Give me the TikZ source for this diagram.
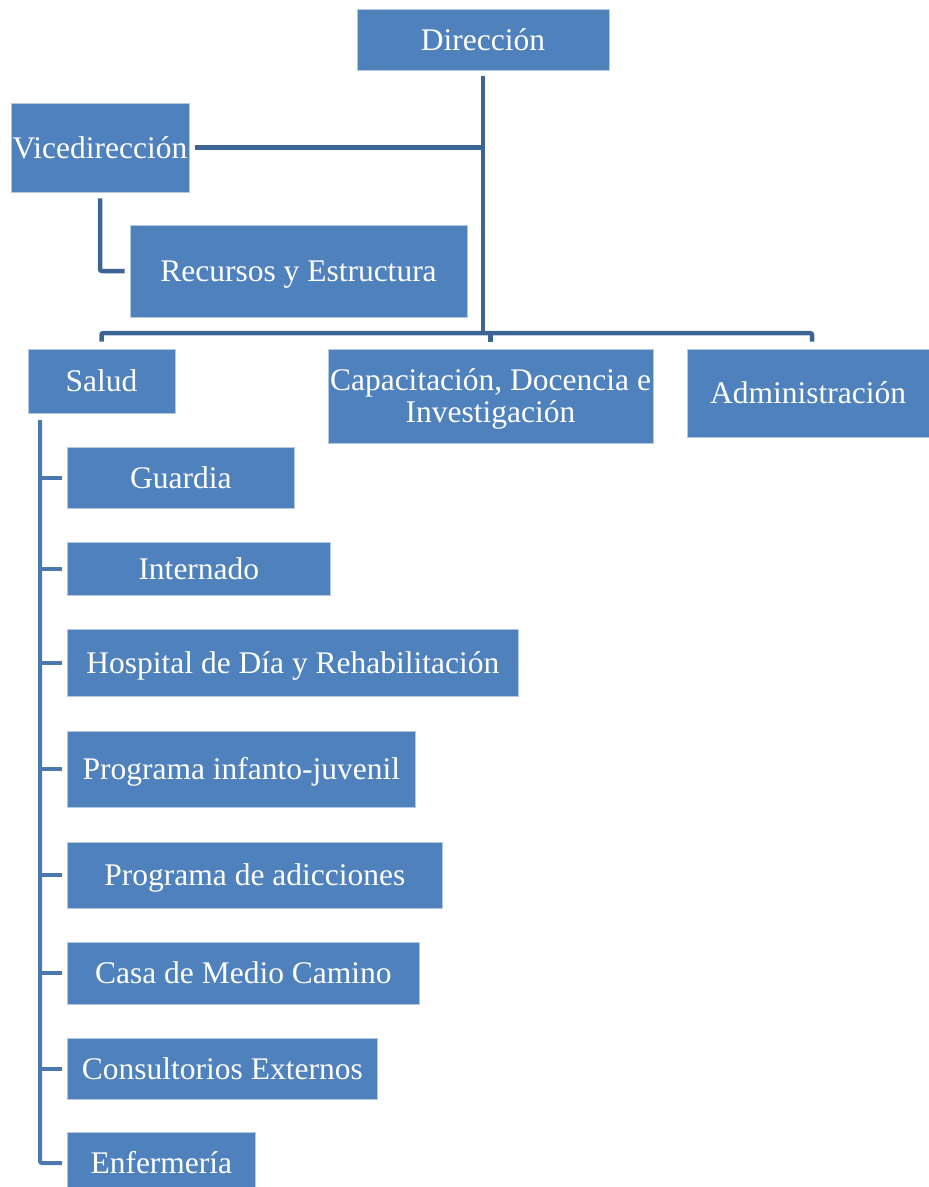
\documentclass[tikz,border=0pt]{standalone}
\usepackage{fontspec}
\setmainfont{Liberation Serif}
\definecolor{boxfill}{HTML}{4F81BD}
\definecolor{boxedge}{HTML}{B4C8E2}
\definecolor{linedark}{HTML}{3D6594}
\definecolor{linemid}{HTML}{4A78B0}
\begin{document}
\begin{tikzpicture}[x=1pt,y=-1pt,
  orgbox/.style={rectangle, fill=boxfill, draw=boxedge, line width=0.7pt, text=white, inner sep=0pt,
    font=\fontsize{31.5}{32}\selectfont},
  onebox/.style={orgbox, text height=21.5pt, text depth=0pt},
  conn/.style={draw=linedark, line width=4.5pt, rounded corners=2pt},
  sconn/.style={draw=linemid, line width=4pt, rounded corners=2pt}]
\useasboundingbox (0,0) rectangle (929,1187);
% top level
\node[onebox, minimum width=252pt, minimum height=61pt] (dir) at (483,39.5) {Dirección};
\node[onebox, minimum width=178pt, minimum height=89pt] (vice) at (100,147.5) {Vicedirección};
\node[onebox, minimum width=337pt, minimum height=92pt] (rec) at (298.5,271) {Recursos y Estructura};
\node[onebox, minimum width=147pt, minimum height=64pt] (salud) at (101.5,381) {Salud};
\node[orgbox, minimum width=325pt, minimum height=94pt] (cap) at (490.5,396)
  {\raisebox{0pt}[\dimexpr\height+8pt\relax][\depth]{\begin{tabular}{@{}c@{}}Capacitación, Docencia e\\Investigación\end{tabular}}};
\node[onebox, minimum width=242pt, minimum height=88pt] (adm) at (808,393) {Administración};
% Salud children
\node[onebox, minimum width=227pt, minimum height=61pt, anchor=west] (g) at (67,477.5) {Guardia};
\node[onebox, minimum width=263pt, minimum height=53pt, anchor=west] (i) at (67,568.5) {Internado};
\node[onebox, minimum width=451pt, minimum height=67pt, anchor=west] (h) at (67,662.5) {Hospital de Día y Rehabilitación};
\node[onebox, minimum width=348pt, minimum height=76pt, anchor=west] (pij) at (67,769) {Programa infanto-juvenil};
\node[onebox, minimum width=375pt, minimum height=66pt, anchor=west] (pa) at (67,875) {Programa de adicciones};
\node[onebox, minimum width=352pt, minimum height=62pt, anchor=west] (cm) at (67,973) {Casa de Medio Camino};
\node[onebox, minimum width=310pt, minimum height=61pt, anchor=west] (ce) at (67,1068.5) {Consultorios Externos};
\node[onebox, minimum width=188pt, minimum height=62pt, anchor=west] (enf) at (67,1163) {Enfermería};
% connectors
\coordinate (bus) at (483,333);
\coordinate (trunk) at (40,420);
\draw[conn] ([yshift=-6pt]dir.south) -- (bus);
\draw[conn] ([xshift=6pt]vice.east) -- (vice.east -| bus);
\draw[conn] ([yshift=-6pt]vice.south) |- ([xshift=-5pt]rec.west);
\draw[conn] ([yshift=7pt]salud.north) |- (bus) -| ([yshift=7pt]adm.north -| 812,0);
\draw[conn] (bus -| cap.north) -- ([yshift=7pt]cap.north);
\draw[sconn] (trunk) |- ([xshift=-5pt]enf.west);
\draw[sconn] (trunk |- g.west) -- ([xshift=-5pt]g.west);
\draw[sconn] (trunk |- i.west) -- ([xshift=-5pt]i.west);
\draw[sconn] (trunk |- h.west) -- ([xshift=-5pt]h.west);
\draw[sconn] (trunk |- pij.west) -- ([xshift=-5pt]pij.west);
\draw[sconn] (trunk |- pa.west) -- ([xshift=-5pt]pa.west);
\draw[sconn] (trunk |- cm.west) -- ([xshift=-5pt]cm.west);
\draw[sconn] (trunk |- ce.west) -- ([xshift=-5pt]ce.west);
\end{tikzpicture}
\end{document}
